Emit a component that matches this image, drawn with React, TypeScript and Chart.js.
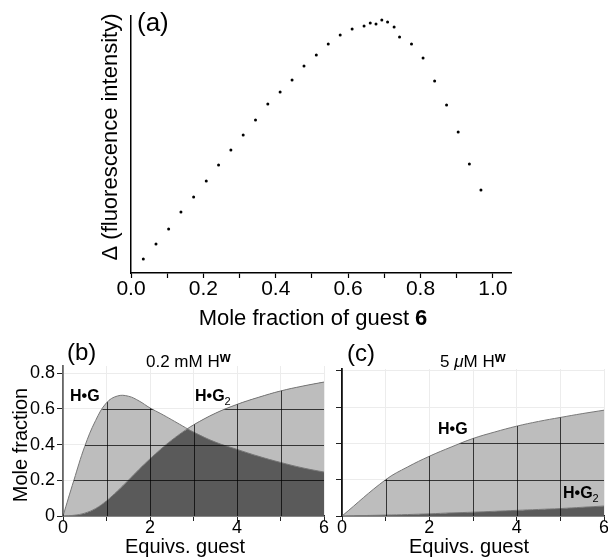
import React, { useEffect, useRef } from 'react';
import { Chart, registerables } from 'chart.js';

Chart.register(...registerables);

const FONT = '"Liberation Sans", Arial, Helvetica, sans-serif';

// ---------- Panel (a): Job plot ----------
const JOB_X = [0.034, 0.069, 0.104, 0.138, 0.173, 0.208, 0.242, 0.276, 0.31, 0.344, 0.378, 0.412, 0.445, 0.478, 0.512, 0.545, 0.578, 0.611, 0.644, 0.661, 0.677, 0.693, 0.709, 0.727, 0.742, 0.775, 0.807, 0.839, 0.872, 0.904, 0.935, 0.967];
const JOB_Y = [14, 29, 44, 61, 76, 92, 108, 123, 138, 153, 169, 181, 193, 207, 218, 229, 238, 244, 247, 250, 249, 253, 251, 246, 236, 229, 215, 192, 168, 141, 109, 83];
const JOB_TICKS = [0, 0.1, 0.2, 0.3, 0.4, 0.5, 0.6, 0.7, 0.8, 0.9, 1.0];

// ---------- Panel (b): 0.2 mM host ----------
const B_EQUIV = [0, 0.25, 0.5, 0.75, 1, 1.25, 1.5, 1.75, 2, 2.25, 2.5, 2.75, 3, 3.5, 4, 4.5, 5, 5.5, 6];
const B_HG = [0, 0.2, 0.39, 0.535, 0.634, 0.672, 0.671, 0.644, 0.605, 0.573, 0.539, 0.504, 0.47, 0.414, 0.373, 0.334, 0.3, 0.27, 0.246];
const B_HG2 = [0, 0.004, 0.016, 0.042, 0.085, 0.14, 0.2, 0.262, 0.32, 0.375, 0.425, 0.47, 0.51, 0.575, 0.625, 0.665, 0.7, 0.727, 0.75];

// ---------- Panel (c): 5 uM host ----------
const C_EQUIV = [0, 1, 1.5, 2, 2.5, 3, 3.5, 4, 4.5, 5, 5.5, 6];
const C_HG = [0, 0.2, 0.27, 0.329, 0.38, 0.427, 0.463, 0.495, 0.521, 0.543, 0.564, 0.583];
const C_HG2 = [0, 0.005, 0.008, 0.012, 0.017, 0.021, 0.026, 0.031, 0.036, 0.041, 0.048, 0.055];

const EQ_TICKS = [0, 1, 2, 3, 4, 5, 6];
const MF_TICKS = [0, 0.2, 0.4, 0.6, 0.8];

const LIGHT = '#bdbdbd';
const DARK = '#5a5a5a';
const EDGE = '#777777';
const GRID_LIGHT = '#ececec';
const GRID_DARK = 'rgba(0,0,0,0.72)';

type Run = { t: string; b?: boolean; i?: boolean; s?: number; dy?: number };
type Label = {
  runs: Run[];
  x: number;
  y: number;
  size: number;
  align?: 'left' | 'center';
  rot?: number;
  baseline?: CanvasTextBaseline;
};

function drawLabel(ctx: CanvasRenderingContext2D, L: Label) {
  ctx.save();
  ctx.translate(L.x, L.y);
  if (L.rot) ctx.rotate(L.rot);
  ctx.fillStyle = '#000';
  ctx.textBaseline = L.baseline || 'alphabetic';
  ctx.textAlign = 'left';
  const fontOf = (r: Run) => `${r.i ? 'italic ' : ''}${r.b ? 'bold ' : ''}${r.s || L.size}px ${FONT}`;
  let total = 0;
  for (const r of L.runs) {
    ctx.font = fontOf(r);
    total += ctx.measureText(r.t).width;
  }
  let cx = L.align === 'center' ? -total / 2 : 0;
  for (const r of L.runs) {
    ctx.font = fontOf(r);
    ctx.fillText(r.t, cx, r.dy || 0);
    cx += ctx.measureText(r.t).width;
  }
  ctx.restore();
}

const labelsPlugin = (labels: Label[]) => ({
  id: 'labels',
  afterDraw(chart: any) {
    labels.forEach((l) => drawLabel(chart.ctx, l));
  },
});

// dark grid lines drawn only where the areas are filled
const gridOverlay = {
  id: 'gridOverlay',
  afterDatasetsDraw(chart: any) {
    const { ctx, chartArea, scales } = chart;
    const x = scales.x;
    const y = scales.y;
    const y0 = y.getPixelForValue(0);
    ctx.save();
    ctx.beginPath();
    chart.data.datasets.forEach((_d: any, i: number) => {
      const pts = chart.getDatasetMeta(i).data;
      if (!pts.length) return;
      ctx.moveTo(pts[0].x, y0);
      pts.forEach((p: any) => ctx.lineTo(p.x, p.y));
      ctx.lineTo(pts[pts.length - 1].x, y0);
      ctx.closePath();
    });
    ctx.clip();
    ctx.strokeStyle = GRID_DARK;
    ctx.lineWidth = 1;
    ctx.beginPath();
    EQ_TICKS.forEach((v) => {
      const px = Math.round(x.getPixelForValue(v)) + 0.5;
      ctx.moveTo(px, chartArea.top);
      ctx.lineTo(px, chartArea.bottom);
    });
    MF_TICKS.forEach((v) => {
      const py = Math.round(y.getPixelForValue(v)) + 0.5;
      ctx.moveTo(chartArea.left, py);
      ctx.lineTo(chartArea.right, py);
    });
    ctx.stroke();
    ctx.restore();
  },
};

function jobConfig(): any {
  const labels: Label[] = [
    { runs: [{ t: '(a)' }], x: 137, y: 31, size: 26 },
    { runs: [{ t: 'Δ (fluorescence intensity)' }], x: 111, y: 137, size: 22, align: 'center', rot: -Math.PI / 2, baseline: 'middle' },
    { runs: [{ t: 'Mole fraction of guest ' }, { t: '6', b: true }], x: 313, y: 325, size: 22, align: 'center' },
  ];
  return {
    type: 'scatter',
    data: {
      datasets: [
        {
          data: JOB_X.map((x, i) => ({ x, y: JOB_Y[i] })),
          pointRadius: 1.5,
          pointBackgroundColor: '#000',
          pointBorderWidth: 0,
          showLine: false,
        },
      ],
    },
    options: {
      responsive: false,
      animation: false,
      layout: { padding: { left: 0, top: 16, right: 97, bottom: 0 } },
      plugins: { legend: { display: false }, tooltip: { enabled: false } },
      scales: {
        x: {
          type: 'linear',
          min: 0,
          max: 1.05,
          afterBuildTicks: (s: any) => {
            s.ticks = JOB_TICKS.map((v) => ({ value: v }));
          },
          afterFit: (s: any) => {
            s.height = 57;
          },
          grid: { drawOnChartArea: false, drawTicks: true, tickLength: 5, tickColor: '#000', tickWidth: 1.2 },
          border: { color: '#000', width: 1.5 },
          ticks: {
            callback: (v: number) => (Math.round(v * 10) % 2 === 0 ? v.toFixed(1) : ''),
            font: { size: 21, family: FONT },
            color: '#000',
            padding: -1,
            maxRotation: 0,
            autoSkip: false,
          },
        },
        y: {
          type: 'linear',
          min: 0,
          max: 257,
          afterFit: (s: any) => {
            s.width = 131;
          },
          grid: { display: false },
          border: { color: '#000', width: 1.5 },
          ticks: { display: false },
        },
      },
    },
    plugins: [labelsPlugin(labels)],
  };
}

function areaConfig(
  xs: number[],
  hg: number[],
  hg2: number[],
  o: { yMax: number; padTop: number; padRight: number; yWidth: number; showY: boolean; yBorder: string; labels: Label[] }
): any {
  return {
    type: 'line',
    data: {
      datasets: [
        {
          data: xs.map((x, i) => ({ x, y: hg[i] })),
          fill: 1,
          backgroundColor: LIGHT,
          borderColor: EDGE,
          borderWidth: 1,
          pointRadius: 0,
          tension: 0.4,
        },
        {
          data: xs.map((x, i) => ({ x, y: hg2[i] })),
          fill: 'origin',
          backgroundColor: DARK,
          borderColor: EDGE,
          borderWidth: 1,
          pointRadius: 0,
          tension: 0.4,
        },
      ],
    },
    options: {
      responsive: false,
      animation: false,
      layout: { padding: { left: 0, top: o.padTop, right: o.padRight, bottom: 0 } },
      plugins: {
        legend: { display: false },
        tooltip: { enabled: false },
        filler: { drawTime: 'beforeDatasetsDraw' },
      },
      scales: {
        x: {
          type: 'linear',
          min: 0,
          max: 6,
          afterBuildTicks: (s: any) => {
            s.ticks = EQ_TICKS.map((v) => ({ value: v }));
          },
          afterFit: (s: any) => {
            s.height = 43;
          },
          grid: { color: GRID_LIGHT, tickColor: '#222', tickLength: 5, lineWidth: 1 },
          border: { color: '#222', width: 1.5 },
          ticks: {
            callback: (v: number) => (v % 2 === 0 ? String(v) : ''),
            font: { size: 18, family: FONT, lineHeight: 1 },
            color: '#000',
            padding: -2,
            maxRotation: 0,
            autoSkip: false,
          },
        },
        y: {
          type: 'linear',
          min: 0,
          max: o.yMax,
          afterBuildTicks: (s: any) => {
            s.ticks = MF_TICKS.map((v) => ({ value: v }));
          },
          afterFit: (s: any) => {
            s.width = o.yWidth;
          },
          grid: { color: GRID_LIGHT, tickColor: '#222', tickLength: 6, lineWidth: 1 },
          border: { color: o.yBorder, width: 1.8 },
          ticks: {
            display: o.showY,
            callback: (v: number) => (v === 0 ? '0' : v.toFixed(1)),
            font: { size: 18, family: FONT },
            color: '#000',
            padding: 2,
          },
        },
      },
    },
    plugins: [gridOverlay, labelsPlugin(o.labels)],
  };
}

function bConfig() {
  const labels: Label[] = [
    { runs: [{ t: '(b)' }], x: 67, y: 30, size: 24 },
    { runs: [{ t: '0.2 mM H' }, { t: 'w', b: true, s: 14, dy: -5 }], x: 146, y: 37, size: 17 },
    { runs: [{ t: 'H•G', b: true }], x: 70, y: 71, size: 16 },
    { runs: [{ t: 'H•G', b: true }, { t: '2', s: 11, dy: 4 }], x: 195, y: 71, size: 16 },
    { runs: [{ t: 'Mole fraction' }], x: 21, y: 115, size: 20, align: 'center', rot: -Math.PI / 2, baseline: 'middle' },
    { runs: [{ t: 'Equivs. guest' }], x: 185, y: 223, size: 20, align: 'center' },
  ];
  return areaConfig(B_EQUIV, B_HG, B_HG2, { yMax: 0.84, padTop: 36, padRight: 6, yWidth: 63, showY: true, yBorder: '#666', labels });
}

function cConfig() {
  const labels: Label[] = [
    { runs: [{ t: '(c)' }], x: 17, y: 31, size: 24 },
    { runs: [{ t: '5 ' }, { t: 'μ', i: true }, { t: 'M H' }, { t: 'w', b: true, s: 14, dy: -5 }], x: 110, y: 37, size: 17 },
    { runs: [{ t: 'H•G', b: true }], x: 108, y: 104, size: 16 },
    { runs: [{ t: 'H•G', b: true }, { t: '2', s: 11, dy: 4 }], x: 233, y: 168, size: 16 },
    { runs: [{ t: 'Equivs. guest' }], x: 139, y: 223, size: 20, align: 'center' },
  ];
  return areaConfig(C_EQUIV, C_HG, C_HG2, { yMax: 0.81, padTop: 39, padRight: 16, yWidth: 12, showY: false, yBorder: '#111', labels });
}

function ChartCanvas({ w, h, left, top, make }: { w: number; h: number; left: number; top: number; make: () => any }) {
  const ref = useRef<HTMLCanvasElement>(null);
  useEffect(() => {
    const chart = new Chart(ref.current as HTMLCanvasElement, make());
    return () => chart.destroy();
  }, []);
  return (
    <canvas
      ref={ref}
      width={w}
      height={h}
      style={{ position: 'absolute', left, top, width: w, height: h, display: 'block' }}
    />
  );
}

export default function App() {
  return (
    <div
      style={{
        position: 'fixed',
        left: 0,
        top: 0,
        width: 608,
        height: 559,
        overflow: 'hidden',
        background: '#fff',
      }}
    >
      <ChartCanvas w={608} h={330} left={0} top={0} make={jobConfig} />
      <ChartCanvas w={330} h={229} left={0} top={330} make={bConfig} />
      <ChartCanvas w={290} h={229} left={330} top={330} make={cConfig} />
    </div>
  );
}
